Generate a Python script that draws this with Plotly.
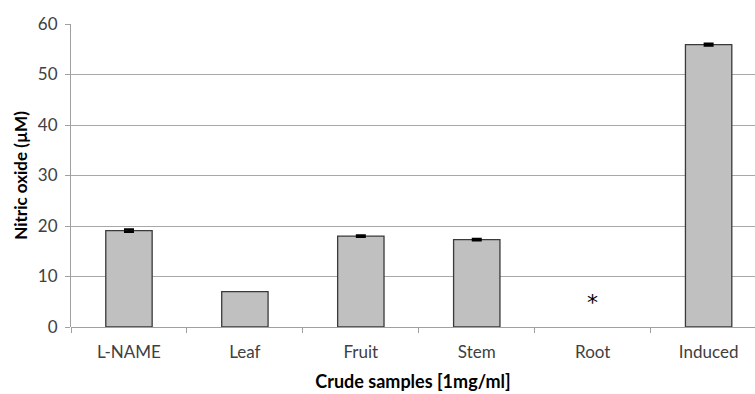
import plotly.graph_objects as go

categories = ["L-NAME", "Leaf", "Fruit", "Stem", "Root", "Induced"]
values = [19.1, 7.0, 18.0, 17.3, None, 55.9]
errors = [0.25, None, 0.15, 0.15, None, 0.2]
y_ticks = [0, 10, 20, 30, 40, 50, 60]
marker_label = "*"
marker_category = "Root"
marker_y = 4.8

font_family = "Lato, 'Open Sans', sans-serif"

fig = go.Figure()
fig.add_trace(go.Bar(
    x=categories, y=values,
    marker=dict(color="#c0c0c0", line=dict(color="#3a3a3a", width=1.3)),
    width=0.4,
))
eb_x = [c for c, e in zip(categories, errors) if e is not None]
eb_y = [v for v, e in zip(values, errors) if e is not None]
eb_e = [e for e in errors if e is not None]
fig.add_trace(go.Scatter(
    x=eb_x, y=eb_y, mode="markers",
    marker=dict(size=1, color="rgba(0,0,0,0)"),
    error_y=dict(type="data", array=eb_e, visible=True, color="#000000",
                 thickness=2.2, width=5),
    hoverinfo="skip",
))
fig.add_annotation(x=marker_category, y=marker_y, text=marker_label, showarrow=False,
                   font=dict(size=22, color="#000000", family="DejaVu Sans"))

fig.update_layout(
    width=755, height=394,
    margin=dict(l=71, r=0, t=24, b=67),
    paper_bgcolor="white", plot_bgcolor="white",
    showlegend=False,
    font=dict(family=font_family, size=16, color="#404040"),
    xaxis=dict(
        range=[-0.5, 5.4],
        tickson="boundaries", ticks="outside", ticklen=5, tickcolor="#a0a0a0",
        ticklabelstandoff=13,
        showgrid=False, showline=False, zeroline=False,
        tickfont=dict(size=17, color="#404040"),
        title=dict(text="<b>Crude samples [1mg/ml]</b>", standoff=14,
                   font=dict(size=18, color="#000000")),
    ),
    yaxis=dict(
        range=[0, 60], tickvals=y_ticks,
        ticks="outside", ticklen=5, tickcolor="#a0a0a0",
        ticklabelstandoff=4,
        showgrid=True, gridcolor="#a8a8a8", gridwidth=1,
        showline=True, linecolor="#a0a0a0", linewidth=1,
        zeroline=True, zerolinecolor="#a0a0a0", zerolinewidth=1,
        tickfont=dict(size=17, color="#404040"),
        title=dict(text="<b>Nitric oxide (µM)</b>", standoff=5,
                   font=dict(size=17, color="#000000")),
    ),
)

fig.write_html("out.html")
